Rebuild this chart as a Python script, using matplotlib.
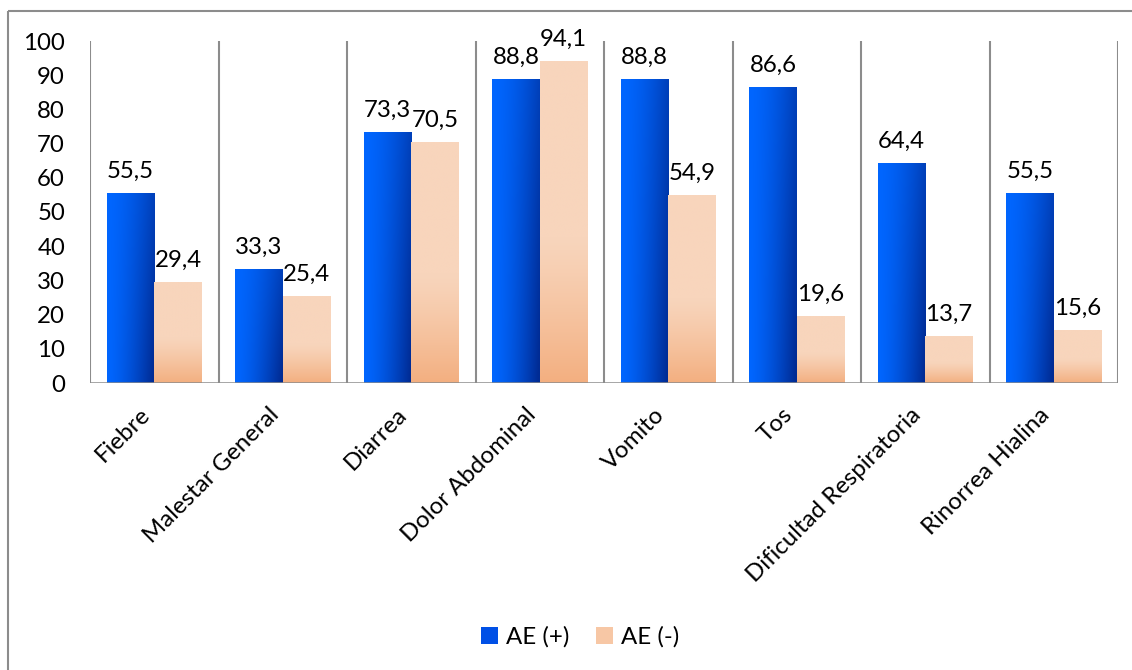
import numpy as np
import matplotlib
matplotlib.use("Agg")
import matplotlib.pyplot as plt
from matplotlib.patches import Rectangle, Patch

categories = ["Fiebre", "Malestar General", "Diarrea", "Dolor Abdominal",
              "Vomito", "Tos", "Dificultad Respiratoria", "Rinorrea Hialina"]
ae_pos = [55.5, 33.3, 73.3, 88.8, 88.8, 86.6, 64.4, 55.5]
ae_neg = [29.4, 25.4, 70.5, 94.1, 54.9, 19.6, 13.7, 15.6]
series_names = ["AE (+)", "AE (-)"]
yticks = [0, 10, 20, 30, 40, 50, 60, 70, 80, 90, 100]

FONT = "Lato"
FS = 17.3
plt.rcParams['font.family'] = [FONT, 'DejaVu Sans']

W, H = 1132, 670
fig = plt.figure(figsize=(W / 100, H / 100), dpi=100)

# figure border (Excel chart area)
fig.patches.append(Rectangle((8 / W, 1 - 11 / H), 2, -2, transform=fig.transFigure,
                             fill=False, edgecolor="#8c8c8c", linewidth=1.5, zorder=0))

ax = fig.add_axes([90 / W, (H - 383) / H, (1118 - 90) / W, (383 - 41) / H])
n = len(categories)
x = np.arange(n)
w = 0.37

blue_top = np.array([0.0, 0.40, 1.0])
blue_dark = np.array([0.0, 0.17, 0.58])
peach_top = np.array([248, 213, 188]) / 255
peach_bot = np.array([243, 175, 128]) / 255

def blue_grad():
    gx = np.linspace(0, 1, 60)[None, :]
    gy = np.linspace(0, 1, 120)[:, None]  # 0 top -> 1 bottom
    t = np.clip(0.65 * gx ** 1.6 + 0.4 * gy * gx ** 1.2, 0, 1)
    return blue_top[None, None, :] * (1 - t[..., None]) + blue_dark[None, None, :] * t[..., None]

def peach_grad():
    gy = np.linspace(0, 1, 200)[:, None]  # 0 top -> 1 bottom
    t = np.clip((gy - 0.55) / 0.45, 0, 1) ** 1.2
    t = np.repeat(t, 10, axis=1)
    return peach_top[None, None, :] * (1 - t[..., None]) + peach_bot[None, None, :] * t[..., None]

bars_pos = ax.bar(x - w / 2, ae_pos, w, color="none", edgecolor="none")
bars_neg = ax.bar(x + w / 2, ae_neg, w, color="none", edgecolor="none")

for bars, grad in ((bars_pos, blue_grad()), (bars_neg, peach_grad())):
    for r in bars:
        x0, y0 = r.get_x(), r.get_y()
        im = ax.imshow(grad, extent=[x0, x0 + r.get_width(), y0, y0 + r.get_height()],
                       aspect="auto", origin="upper", zorder=2, interpolation="bilinear")
        im.set_clip_path(r)

def fmt(v):
    return f"{v:.1f}".replace(".", ",")

for bars, vals in ((bars_pos, ae_pos), (bars_neg, ae_neg)):
    for r, v in zip(bars, vals):
        ax.annotate(fmt(v), (r.get_x() + r.get_width() / 2, v), xytext=(0, 8),
                    textcoords="offset points", ha="center", va="bottom",
                    fontsize=FS, clip_on=False, zorder=5)

ax.set_xlim(-0.5, n - 0.5)
ax.set_ylim(0, 100)

# vertical separators
for b in np.arange(-0.5, n, 1.0):
    ax.axvline(b, color="#8c8c8c", linewidth=1.5, zorder=1)
ax.axhline(0, color="#8c8c8c", linewidth=1.8, zorder=3)

for s in ax.spines.values():
    s.set_visible(False)

ax.set_yticks(yticks)
ax.set_yticklabels([str(t) for t in yticks], fontsize=FS)
ax.tick_params(axis="y", length=0, pad=18)
ax.set_xticks(x)
ax.set_xticklabels(categories, rotation=45, ha="right", va="top", fontsize=FS)
ax.tick_params(axis="x", length=0, pad=15)

handles = [Patch(facecolor="#0050e6", edgecolor="none"),
           Patch(facecolor="#f7c7a5", edgecolor="none")]
fig.legend(handles, series_names, loc="center", bbox_to_anchor=(580 / W, 1 - 637 / H),
           ncol=2, frameon=False, fontsize=FS, handlelength=0.7, handleheight=0.7,
           handletextpad=0.35, columnspacing=1.1)

fig.savefig("out.png", dpi=100)
